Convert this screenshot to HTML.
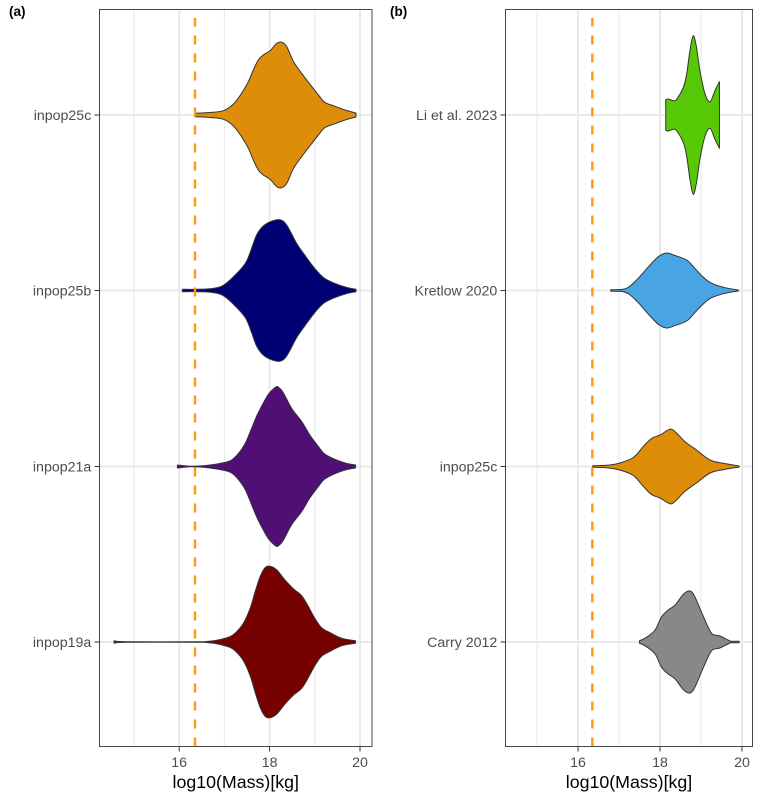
<!DOCTYPE html>
<html>
<head>
<meta charset="utf-8">
<style>
html,body{margin:0;padding:0;background:#fff;width:762px;height:800px;overflow:hidden}
svg{display:block;font-family:"Liberation Sans",Arial,sans-serif}
</style>
</head>
<body>
<svg id="chart" width="762" height="800" viewBox="0 0 762 800" xmlns="http://www.w3.org/2000/svg"></svg>
<script>
// Shared data
const xTicks = [16, 18, 20];
const xMinorTicks = [15, 17, 19];
const referenceMass = 16.35;
const xAxisTitle = "log10(Mass)[kg]";

// Panel (a)
const catsA = ["inpop25c", "inpop25b", "inpop21a", "inpop19a"];
const colorsA = ["#DE8D08", "#000075", "#4F0F75", "#770000"];
const mass25cA = [16.35,16.68,16.98,17.2,17.38,17.53,17.64,17.75,17.86,18.01,18.16,18.27,18.38,18.53,18.71,18.89,19.08,19.22,19.41,19.67,19.91];
const dens25cA = [.018,.025,.043,.11,.217,.333,.45,.55,.6,.643,.717,.727,.683,.533,.417,.31,.2,.127,.093,.05,.02];
const mass25b = [16.07,16.35,16.68,16.94,17.16,17.46,17.6,17.71,17.84,18.01,18.23,18.38,18.6,18.78,19.0,19.19,19.41,19.71,19.91];
const dens25b = [.012,.012,.017,.043,.12,.27,.42,.553,.637,.687,.707,.653,.47,.353,.22,.13,.077,.03,.013];
const mass21a = [15.96,16.24,16.45,16.68,16.98,17.16,17.31,17.46,17.6,17.71,17.82,17.97,18.12,18.19,18.3,18.49,18.71,18.89,19.08,19.22,19.48,19.71,19.9];
const dens21a = [.015,.003,.005,.015,.038,.065,.13,.23,.38,.5,.6,.72,.79,.795,.74,.58,.45,.315,.2,.125,.065,.03,.015];
const mass19a = [14.56,14.84,16.4,16.6,16.83,17.12,17.27,17.42,17.57,17.68,17.79,17.9,18.01,18.16,18.34,18.53,18.71,18.86,19.0,19.15,19.34,19.6,19.9];
const dens19a = [.012,.003,.002,.005,.017,.053,.103,.187,.337,.503,.653,.743,.757,.72,.62,.53,.463,.353,.237,.143,.093,.037,.013];

// Panel (b)
const catsB = ["Li et al. 2023", "Kretlow 2020", "inpop25c", "Carry 2012"];
const colorsB = ["#57C805", "#48A4E3", "#DE8D08", "#888888"];
const massLi = [18.14,18.2,18.33,18.41,18.57,18.65,18.73,18.81,18.89,18.98,19.1,19.22,19.34,19.45];
const densLi = [.153,.16,.143,.16,.277,.41,.643,.793,.677,.427,.21,.133,.243,.333];
const massKretlow = [16.8,17.11,17.27,17.47,17.72,17.96,18.16,18.33,18.65,18.85,19.06,19.26,19.59,19.91];
const densKretlow = [.008,.012,.045,.122,.238,.338,.375,.355,.305,.222,.132,.072,.028,.005];
const mass25cB = [16.36,16.7,17.02,17.35,17.59,17.8,18,18.24,18.37,18.61,18.89,19.22,19.54,19.93];
const dens25cB = [.008,.012,.035,.09,.198,.282,.315,.372,.348,.248,.165,.065,.032,.005];
const massCarry = [17.5,17.67,17.88,18.04,18.2,18.37,18.57,18.73,18.85,19.06,19.26,19.46,19.71,19.79,19.93];
const densCarry = [.012,.047,.12,.253,.32,.37,.477,.51,.453,.253,.087,.06,.01,.008,.008];

const NS = "http://www.w3.org/2000/svg";
const svg = document.getElementById("chart");
const catY = [115, 290.5, 466.5, 642];
const panelTop = 9.5, panelBottom = 746.5;

function add(parent, tag, attrs) {
  const el = document.createElementNS(NS, tag);
  for (const k in attrs) el.setAttribute(k, attrs[k]);
  parent.appendChild(el);
  return el;
}

// Smooth path through points (Catmull-Rom converted to cubic Bezier)
function smooth(pts) {
  let d = "";
  for (let i = 0; i < pts.length - 1; i++) {
    const p0 = pts[Math.max(i - 1, 0)], p1 = pts[i], p2 = pts[i + 1], p3 = pts[Math.min(i + 2, pts.length - 1)];
    const c1 = [p1[0] + (p2[0] - p0[0]) / 6, p1[1] + (p2[1] - p0[1]) / 6];
    const c2 = [p2[0] - (p3[0] - p1[0]) / 6, p2[1] - (p3[1] - p1[1]) / 6];
    d += "C" + c1[0].toFixed(2) + " " + c1[1].toFixed(2) + " " + c2[0].toFixed(2) + " " + c2[1].toFixed(2) + " " + p2[0].toFixed(2) + " " + p2[1].toFixed(2);
  }
  return d;
}

function violinPath(xFn, cy, masses, dens) {
  const heightPx = v => v * 100;
  const top = masses.map((m, i) => [xFn(m), cy - heightPx(dens[i])]);
  const bottom = masses.map((m, i) => [xFn(m), cy + heightPx(dens[i])]).reverse();
  return "M" + top[0][0].toFixed(2) + " " + top[0][1].toFixed(2) + smooth(top) +
    "L" + bottom[0][0].toFixed(2) + " " + bottom[0][1].toFixed(2) + smooth(bottom) + "Z";
}

function drawPanel(cfg) {
  const g = add(svg, "g", {});
  
  
  const xFn = m => cfg.x18 + (m - 18) * cfg.pxPerUnit;

  xMinorTicks.forEach(t => {
    const l = add(g, "line", {x1: xFn(t), x2: xFn(t), y1: panelTop, y2: panelBottom, stroke: "#EBEBEB", "stroke-width": 1.2});
    
    
  });
  xTicks.forEach(t => {
    const l = add(g, "line", {x1: xFn(t), x2: xFn(t), y1: panelTop, y2: panelBottom, stroke: "#E9E9E9", "stroke-width": 2});
    
    
  });
  catY.forEach(y => {
    const l = add(g, "line", {x1: cfg.left, x2: cfg.right, y1: y, y2: y, stroke: "#E9E9E9", "stroke-width": 2});
    
    
  });

  cfg.series.forEach((s, i) => {
    const p = add(g, "path", {d: violinPath(xFn, catY[i], s[0], s[1]), fill: cfg.colors[i], stroke: "#333333", "stroke-width": 1, "stroke-linejoin": "round"});
    
    
  });

  const v = add(g, "line", {x1: xFn(referenceMass), x2: xFn(referenceMass), y1: panelBottom, y2: panelTop + 8.5, stroke: "#FF9A0D", "stroke-width": 2.4, "stroke-dasharray": "9 9"});
  
  

  const b = add(g, "rect", {x: cfg.left, y: panelTop, width: cfg.right - cfg.left, height: panelBottom - panelTop, fill: "none", stroke: "#444444", "stroke-width": 1});
  
  

  catY.forEach((y, i) => {
    const t = add(g, "line", {x1: cfg.left - 5, x2: cfg.left, y1: y, y2: y, stroke: "#333333", "stroke-width": 1});
    
    
    const lab = add(g, "text", {x: cfg.left - 8.2, y: y + 5, "text-anchor": "end", "font-size": 14.2, fill: "#4D4D4D"});
    
    
    lab.textContent = cfg.cats[i];
  });
  xTicks.forEach(t => {
    const k = add(g, "line", {x1: xFn(t), x2: xFn(t), y1: panelBottom, y2: panelBottom + 5, stroke: "#333333", "stroke-width": 1});
    
    
    const lab = add(g, "text", {x: xFn(t), y: 767, "text-anchor": "middle", "font-size": 14.2, fill: "#4D4D4D"});
    
    
    lab.textContent = t;
  });

  const title = add(g, "text", {x: (cfg.left + cfg.right) / 2, y: 788, "text-anchor": "middle", "font-size": 17.8, fill: "#000"});
  
  
  title.textContent = xAxisTitle;

  const tag = add(g, "text", {x: cfg.tagX, y: 16, "font-size": 13.5, "font-weight": "bold", fill: "#000"});
  
  
  tag.textContent = cfg.tag;
}

drawPanel({
  name: "panel-a", tag: "(a)", tagX: 9, left: 99.5, right: 372, x18: 269.6, pxPerUnit: 45.2,
  cats: catsA, colors: colorsA,
  series: [[mass25cA, dens25cA], [mass25b, dens25b], [mass21a, dens21a], [mass19a, dens19a]]
});
drawPanel({
  name: "panel-b", tag: "(b)", tagX: 390, left: 505.5, right: 752.5, x18: 660, pxPerUnit: 41,
  cats: catsB, colors: colorsB,
  series: [[massLi, densLi], [massKretlow, densKretlow], [mass25cB, dens25cB], [massCarry, densCarry]]
});
</script>
</body>
</html>
